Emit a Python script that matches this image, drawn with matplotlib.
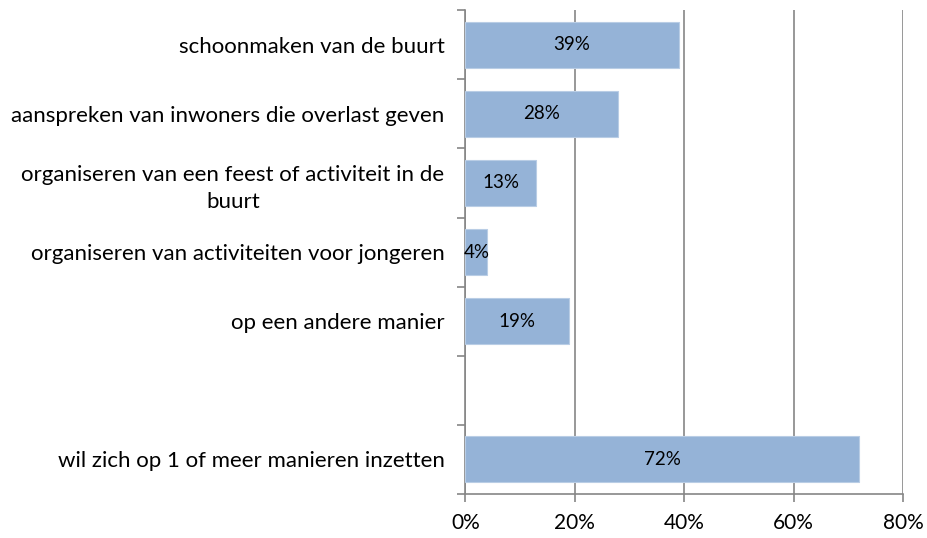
import matplotlib
matplotlib.use('Agg')
import matplotlib.pyplot as plt
import numpy as np

plt.rcParams['font.family'] = ['Lato', 'DejaVu Sans']

categories = ['schoonmaken van de buurt',
              'aanspreken van inwoners die overlast geven',
              'organiseren van een feest of activiteit in de\nbuurt',
              'organiseren van activiteiten voor jongeren',
              'op een andere manier',
              '',
              'wil zich op 1 of meer manieren inzetten']
values = [39, 28, 13, 4, 19, np.nan, 72]
xticks = [0, 20, 40, 60, 80]
xticklabels = ['0%', '20%', '40%', '60%', '80%']

fig = plt.figure(figsize=(9.27, 5.38), dpi=100)
ax = fig.add_axes([0.502, 0.082, 0.472, 0.899])

pos = np.arange(len(categories))
ax.barh(pos, values, height=0.67, color='#95b3d7', edgecolor='#b9cde5', linewidth=0.8, zorder=3)

for p, v in zip(pos, values):
    if np.isnan(v):
        continue
    ax.text(v / 2, p, '%d%%' % v, ha='center', va='center', fontsize=13.5, color='black', zorder=4)

ax.set_ylim(len(categories) - 0.5, -0.5)
ax.set_xlim(0, 80)
ax.set_xticks(xticks)
ax.set_xticklabels(xticklabels, fontsize=15)
ax.set_yticks(pos)
ax.set_yticklabels(categories, fontsize=16, multialignment='center', linespacing=1.45)

# ticks between categories on the left axis
ax.set_yticks(np.arange(-0.5, len(categories), 1), minor=True)
ax.tick_params(axis='y', which='major', length=0, pad=15)
ax.tick_params(axis='y', which='minor', length=6, color='#868686', width=1.2, direction='out')
ax.tick_params(axis='x', length=6, color='#868686', width=1.2, pad=8)

ax.xaxis.grid(True, color='#868686', linewidth=1.2, zorder=0)
for s in ['top', 'right']:
    ax.spines[s].set_visible(False)
for s in ['left', 'bottom']:
    ax.spines[s].set_color('#868686')
    ax.spines[s].set_linewidth(1.2)

fig.savefig('out.png', dpi=100)
